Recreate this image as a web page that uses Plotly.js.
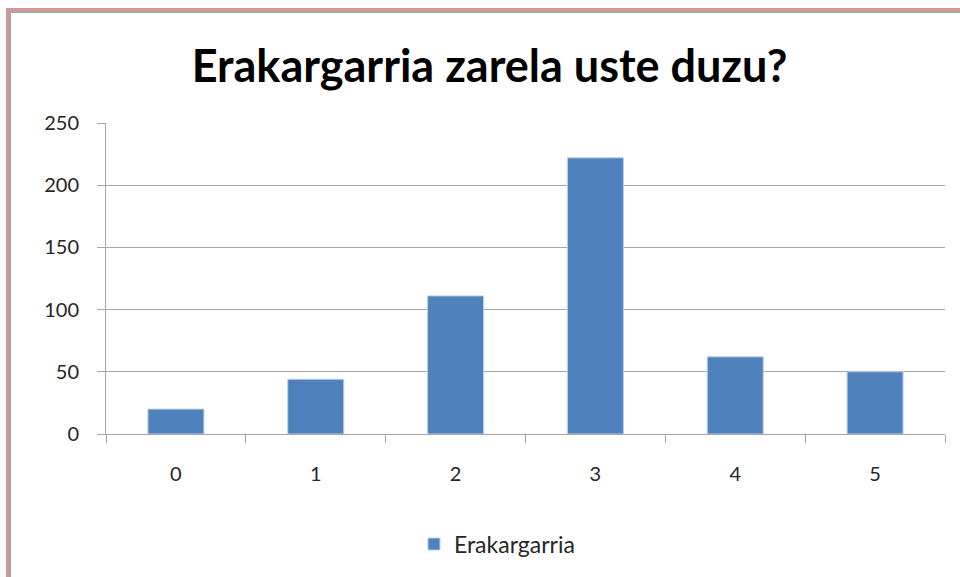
<!DOCTYPE html>
<html>
<head>
<meta charset="utf-8">
<script src="https://cdn.plot.ly/plotly-3.0.1.min.js"></script>
<style>
  body { margin: 0; background: #fff; overflow: hidden; }
  #frame {
    position: absolute; left: 6px; top: 8px; width: 980px; height: 600px;
    border-left: 3px solid #d99594; border-top: 3px solid #d99594;
    box-shadow: inset 2px 2px 0 #a6a6a6;
  }
  #chart { position: absolute; left: 0; top: 0; width: 960px; height: 577px; }
</style>
</head>
<body>
<div id="frame"></div>
<div id="chart"></div>
<script>
// Data
const categories = ['0', '1', '2', '3', '4', '5'];
const counts = [20, 44, 111, 222, 62, 50];
const seriesName = 'Erakargarria';
const yTicks = [0, 50, 100, 150, 200, 250];

const font = 'Lato, "Open Sans", sans-serif';
const gray = '#a6a6a6';

const trace = {
  x: categories,
  y: counts,
  name: seriesName,
  type: 'bar',
  width: 0.4,
  marker: { color: '#4f81bd', line: { color: '#b9cde5', width: 1 } },
  showlegend: true
};

const layout = {
  width: 960,
  height: 577,
  margin: { l: 106, r: 15, t: 123, b: 143 },
  paper_bgcolor: 'rgba(0,0,0,0)',
  plot_bgcolor: 'rgba(0,0,0,0)',
  font: { family: font, size: 20, color: '#262626' },
  title: {
    text: '<b>Erakargarria zarela uste duzu?</b>',
    font: { family: font, size: 45, color: '#000' },
    x: 0.51, xref: 'container', xanchor: 'center',
    y: 0.885, yref: 'container', yanchor: 'middle'
  },
  xaxis: {
    type: 'category',
    showline: true, linecolor: gray, linewidth: 1,
    ticks: 'outside', ticklen: 8, tickcolor: gray,
    tickson: 'boundaries',
    showgrid: false,
    ticklabelstandoff: 22,
    fixedrange: true
  },
  yaxis: {
    range: [0, 250],
    tickvals: yTicks,
    showline: true, linecolor: gray, linewidth: 1,
    ticks: 'outside', ticklen: 8, tickcolor: gray,
    gridcolor: gray, gridwidth: 1,
    zeroline: false,
    ticklabelstandoff: 14,
    fixedrange: true
  },
  legend: {
    orientation: 'h',
    x: 0.466, xanchor: 'center',
    y: -0.354, yanchor: 'middle',
    font: { family: font, size: 23, color: '#262626' }
  },
  showlegend: true
};

Plotly.newPlot('chart', [trace], layout, { displayModeBar: false, staticPlot: true });
</script>
</body>
</html>
